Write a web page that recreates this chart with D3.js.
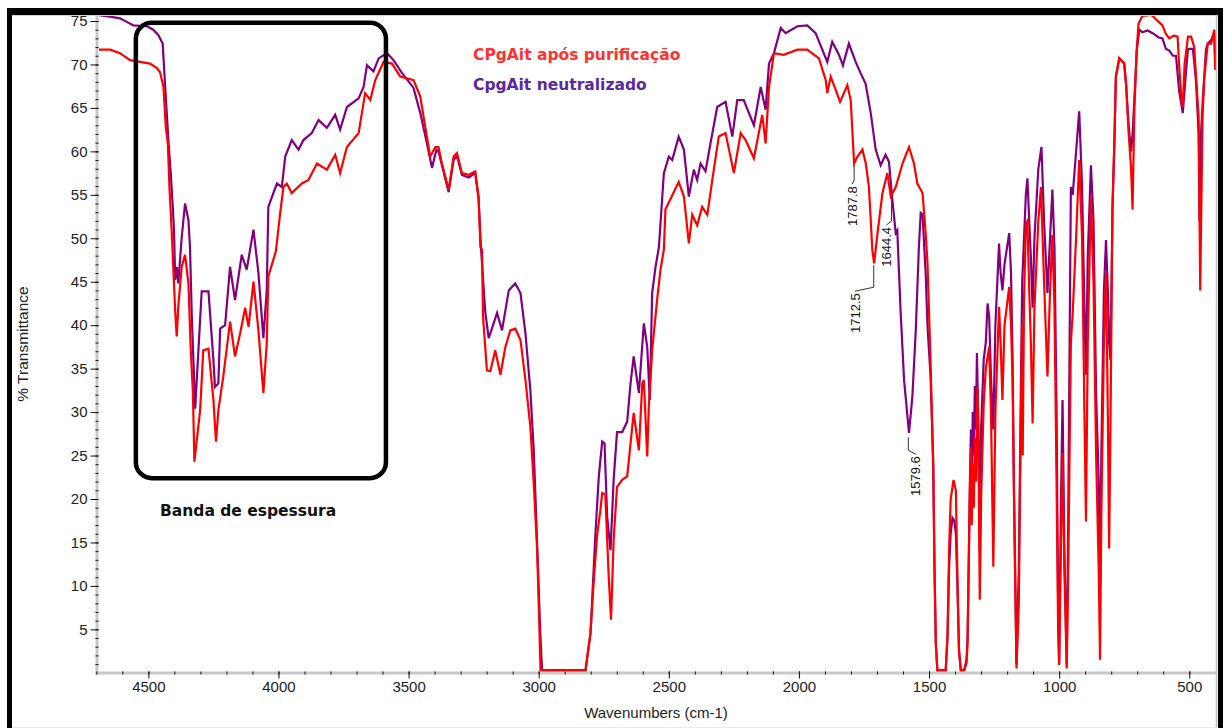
<!DOCTYPE html>
<html>
<head>
<meta charset="utf-8">
<script src="https://cdn.jsdelivr.net/npm/d3@7/dist/d3.min.js"></script>
<style>
  body { margin: 0; background: #fff; }
  svg { display: block; }
  .tick text { font-family: "Liberation Sans", Arial, sans-serif; font-size: 15px; fill: #222; }
</style>
</head>
<body>
<svg id="chart" width="1227" height="728"></svg>
<script>
`use strict`;

// [wavenumber cm-1, %T]
const purificacao = [
  [4700,71.7],[4647,71.7],[4609,71.3],[4570,70.5],[4532,70.3],[4494,70.1],[4468,69.6],[4455,69.1],
  [4442,67.4],[4433,62.8],[4425,60.9],[4419,55.9],[4410,50.6],[4406,47.9],[4397,41.7],[4391,38.7],
  [4385,42.1],[4372,46.7],[4359,48.1],[4346,44.8],[4337,37.1],[4329,32.5],[4323,24.3],[4301,30.2],
  [4289,37.1],[4269,37.3],[4250,31.4],[4240,26.6],[4231,30.2],[4212,34.1],[4186,40.4],[4167,36.4],
  [4147,39.1],[4128,42],[4115,39.8],[4096,45],[4077,39.4],[4058,32.2],[4045,37.9],[4039,45.6],
  [4010,48.5],[3995,52.5],[3981,55.9],[3968,56.3],[3949,55.2],[3910,56.3],[3885,56.7],[3852,58.6],
  [3814,57.9],[3782,59.6],[3763,57.5],[3737,60.5],[3692,62.1],[3667,66.7],[3647,65.9],[3628,68.2],
  [3596,70.3],[3564,70.1],[3532,68.6],[3481,68.2],[3455,66.3],[3436,62.8],[3417,59.4],[3397,60.5],
  [3385,60.5],[3372,58.6],[3346,55.6],[3327,59.4],[3314,59.8],[3295,57.5],[3269,57.3],[3244,57.7],
  [3231,54.8],[3224,49],[3218,48.7],[3214,41],[3199,34.8],[3186,34.7],[3167,37.1],[3147,34.3],
  [3128,37.5],[3109,39.4],[3090,39.6],[3070,38.3],[3051,33.7],[3032,28.3],[3019,21.8],[3006,14.1],
  [3000,8],[2993,0.3],[2900,0.3],[2820,0.3],[2801,4.6],[2789,10.3],[2775,16],[2763,18.7],
  [2756,20.7],[2744,20.5],[2731,11.1],[2722,6.1],[2712,15.3],[2699,21.4],[2679,22.2],[2660,22.6],
  [2647,26.4],[2635,29.9],[2615,25.6],[2602,33.3],[2596,33.7],[2583,24.9],[2577,30.6],[2564,37.1],
  [2545,42.9],[2532,46.4],[2519,48.7],[2513,53.3],[2494,54.5],[2462,56.5],[2442,54.8],[2423,49.4],
  [2410,52.7],[2391,51.5],[2372,53.6],[2352,52.7],[2333,56.7],[2308,61.7],[2282,62.1],[2250,57.5],
  [2224,62.1],[2205,61.3],[2173,59.2],[2141,64.2],[2128,60.9],[2115,67.4],[2096,71.3],[2058,71.1],
  [2006,71.7],[1968,71.7],[1923,70.7],[1897,68.2],[1891,66.7],[1878,68.6],[1859,67.1],[1842,65.7],
  [1814,67.6],[1801,65.9],[1788,58.6],[1775,59.4],[1756,60.2],[1743,58.6],[1731,55.9],[1718,48.7],
  [1711,47.1],[1698,50.6],[1679,55.2],[1660,57.5],[1647,54.8],[1628,55.9],[1602,58.6],[1577,60.5],
  [1558,58.6],[1545,56.3],[1525,55.2],[1513,50.6],[1506,47.1],[1494,35.6],[1484,24],[1479,12],
  [1474,3.4],[1468,0.3],[1436,0.3],[1429,4.2],[1423,14.1],[1417,19.9],[1406,22.2],[1397,21],
  [1391,11.1],[1385,2.6],[1378,0.3],[1365,0.3],[1356,1.1],[1352,3.4],[1348,11],[1343,21],
  [1339,26],[1336,17],[1332,24],[1328,19],[1324,27],[1320,22],[1314,32.9],[1309,22],
  [1305,8.4],[1300,20],[1290,31],[1282,35],[1269,37.5],[1262,30],[1253,12.2],[1245,30],
  [1231,42.1],[1225,38],[1218,31.4],[1210,40],[1192,44.4],[1185,40],[1179,33.7],[1174,21],
  [1164,0.5],[1155,8],[1147,30],[1142,40],[1140,25],[1135,43],[1128,51.7],[1122,52],
  [1115,44],[1109,38.3],[1102,28.7],[1095,42],[1080,52],[1070,55.9],[1058,45],[1045,34.1],
  [1035,44],[1026,50.4],[1018,42],[1010,22],[1004,5],[1000,0.9],[993,15],[987,25.3],
  [980,12],[971,0.5],[965,12],[962,20],[955,38],[948,41.4],[935,50],[923,59],
  [912,50],[903,30],[897,17.4],[890,38],[878,54.8],[868,45],[858,25],[848,12],
  [843,1.5],[838,18],[828,38],[820,46],[813,30],[808,14.3],[803,28],[795,53.6],
  [788,60.9],[782,68.6],[769,70.7],[750,70.1],[743,67.8],[733,62.1],[724,58.2],[718,53.3],
  [711,64.8],[702,71.7],[695,74.7],[680,75.6],[645,75.7],[628,75.2],[603,74.5],[590,73.5],
  [577,73],[560,73.3],[545,73.2],[539,70],[530,66],[525,65.1],[518,70],[505,73.2],
  [493,73.2],[481,72],[474,68.6],[464,64],[458,44],[449,64],[442,68.6],[429,72.4],
  [416,72.4],[404,74],[400,69.4]
];

const neutralizado = [
  [4700,75.7],[4647,75.5],[4609,75.3],[4583,74.9],[4558,74.5],[4506,74.4],[4481,74],[4462,73.4],
  [4445,72.4],[4436,67.8],[4423,61.3],[4414,57.5],[4406,53.6],[4401,50.6],[4397,45.2],[4391,46.7],
  [4385,44.8],[4372,50],[4359,54],[4346,52.1],[4340,49],[4333,41],[4320,30.4],[4295,43.9],
  [4269,43.9],[4250,36],[4244,32.9],[4231,33.3],[4224,39.6],[4205,40],[4186,46.7],[4167,42.9],
  [4141,48.1],[4122,46.4],[4096,51],[4077,46],[4058,38.5],[4045,44],[4039,53.6],[4006,56.3],
  [3987,55.9],[3974,59.4],[3949,61.3],[3923,60.2],[3904,61.3],[3872,62.1],[3846,63.6],[3814,62.7],
  [3782,64.2],[3763,62.5],[3737,65.1],[3692,66.1],[3673,67.4],[3660,69.9],[3635,69.2],[3615,70.7],
  [3583,71.3],[3558,70.5],[3525,69],[3481,67.3],[3455,64.4],[3430,61],[3410,58.1],[3393,60.2],
  [3385,60],[3346,55.3],[3327,59],[3314,59.5],[3295,57.3],[3269,57],[3244,57.5],[3231,54.5],
  [3222,49],[3218,47.2],[3205,41.4],[3192,38.5],[3160,41.4],[3141,39.4],[3115,44],[3090,44.8],
  [3070,43.7],[3051,39.1],[3032,32.5],[3019,25.6],[3006,14.9],[2994,4.6],[2987,0.3],[2820,0.3],
  [2801,4.5],[2782,16],[2769,22.6],[2756,26.6],[2747,26.4],[2737,18],[2724,14.1],[2712,22.2],
  [2699,27.7],[2679,27.7],[2660,28.9],[2647,33.3],[2635,36.4],[2615,32.2],[2596,40.2],[2583,37.5],
  [2573,31.4],[2564,43.7],[2551,46.7],[2538,49],[2519,57.5],[2500,59.4],[2487,59],[2462,61.7],
  [2442,60.2],[2423,54.8],[2404,57.9],[2391,56.7],[2378,58.6],[2359,57.7],[2340,60.9],[2314,65.1],
  [2282,65.7],[2256,61.7],[2237,65.9],[2212,65.9],[2192,64.4],[2173,63],[2147,67.4],[2128,64.8],
  [2115,70.1],[2096,71.3],[2070,74.2],[2051,73.6],[2006,74.4],[1968,74.5],[1936,73.6],[1891,70.3],
  [1872,72.6],[1846,71.1],[1831,69.9],[1808,72.4],[1782,70.3],[1763,69],[1744,67.8],[1724,64.4],
  [1705,60.2],[1686,58.4],[1667,59.6],[1654,58.8],[1641,54.4],[1628,50.6],[1622,50.9],[1609,41.4],
  [1596,33.7],[1577,27.6],[1564,31.8],[1551,39.4],[1539,49],[1532,52.9],[1525,52.7],[1513,46],
  [1506,40],[1494,34],[1484,24],[1479,12],[1474,3.4],[1468,0.3],[1436,0.3],[1429,4.2],
  [1423,12],[1417,16],[1410,17.8],[1403,17.5],[1397,16],[1391,10],[1385,2.6],[1378,0.3],
  [1365,0.3],[1356,1.5],[1352,4],[1348,12],[1343,22],[1339,28],[1336,20],[1332,30],
  [1328,25],[1324,33],[1320,28],[1316,36.8],[1310,28],[1305,14],[1300,28],[1290,36],
  [1282,38],[1275,42.5],[1269,41],[1262,34],[1253,28],[1245,40],[1231,49.4],[1225,46],
  [1218,44],[1210,47],[1192,50.6],[1185,46],[1179,36],[1174,22],[1164,1],[1155,12],
  [1147,33],[1142,45],[1135,50],[1128,55],[1122,56.9],[1115,52],[1109,48],[1102,42],
  [1095,50],[1080,58],[1068,60.5],[1058,52],[1045,43.7],[1035,50],[1026,55.6],[1018,49],
  [1010,30],[1004,8],[1000,1],[993,20],[987,31.4],[980,14],[971,1],[965,18],
  [962,30],[955,55.9],[948,55],[940,58],[923,64.6],[912,56],[903,42],[897,34.3],
  [890,48],[878,58.4],[868,52],[858,32],[848,22],[843,10],[838,25],[828,44],
  [820,49.8],[813,44],[808,38],[803,36],[795,53.6],[788,60.9],[782,68.6],[769,70.7],
  [750,70.1],[743,67.8],[733,63],[724,60],[718,62],[711,66],[702,71.5],[692,74],
  [680,73.7],[660,73.9],[641,73.6],[617,73.1],[603,73],[590,71.8],[577,71.6],[563,71],
  [551,71],[539,67],[525,64.4],[513,69],[505,71.8],[486,71.8],[474,68],[464,62],
  [461,52],[455,62],[448,66],[436,71.7],[429,72.4],[416,72.8],[404,73.6],[400,69.4]
];

const xTicks = [4500, 4000, 3500, 3000, 2500, 2000, 1500, 1000, 500];
const yTicks = [5, 10, 15, 20, 25, 30, 35, 40, 45, 50, 55, 60, 65, 70, 75];
const xMinor = d3.range(500, 4701, 100);
const yMinor = d3.range(1, 76, 1);

const legenda = [`CPgAit após purificação`, `CpgAit neutralizado`];
const cores = [`#ff0000`, `#800080`];
const coresLegenda = [`#ff3232`, `#5a28a0`];

// peak labels: [wavenumber, %T at leader start]
const picos = [[1787.8, 58.4], [1712.5, 46.9], [1644.4, 54.4], [1579.6, 27.1]];

// thickness band box corners [wavenumber, %T]
const bandaWn = [4548, 3587];
const bandaT = [74.8, 22.4];

(function () {

  const svg = d3.select(`#chart`);

  const x = d3.scaleLinear().domain([4700, 400]).range([96.3, 1215.3]);
  const y = d3.scaleLinear().domain([0, 75]).range([672.8, 21]);

  svg.append(`rect`).attr(`width`, 1227).attr(`height`, 728).attr(`fill`, `#fff`);

  // axis bands
  svg.append(`rect`)
    .attr(`x`, 95.5).attr(`y`, 15).attr(`width`, 3).attr(`height`, 660)
    .attr(`fill`, `#c8c8c8`);

  svg.append(`rect`)
    .attr(`x`, 95.5).attr(`y`, 671.5).attr(`width`, 1121.5).attr(`height`, 3)
    .attr(`fill`, `#c8c8c8`);

  let yAx = svg.append(`g`)
    .attr(`transform`, `translate(98.5,0)`)
    .call(d3.axisLeft(y).tickValues(yTicks).tickSize(8).tickPadding(3).tickFormat(d3.format(`d`)));

  let yMin = svg.append(`g`)
    .attr(`transform`, `translate(98.5,0)`)
    .call(d3.axisLeft(y).tickValues(yMinor).tickSize(3).tickFormat(``));

  let xAx = svg.append(`g`)
    .attr(`transform`, `translate(0,671.5)`)
    .call(d3.axisBottom(x).tickValues(xTicks).tickSize(7).tickPadding(3).tickFormat(d3.format(`d`)));

  let xMin = svg.append(`g`)
    .attr(`transform`, `translate(0,671.5)`)
    .call(d3.axisBottom(x).tickValues(xMinor).tickSize(3).tickFormat(``));

  [yAx, yMin, xAx, xMin].forEach(g => {
    g.select(`.domain`).remove();
    g.selectAll(`line`).attr(`stroke`, `#111`);
  });

  // axis titles
  svg.append(`text`)
    .attr(`transform`, `translate(28,344) rotate(-90)`)
    .attr(`text-anchor`, `middle`)
    .style(`font-family`, `"Liberation Sans", Arial, sans-serif`)
    .style(`font-size`, `15.5px`)
    .style(`fill`, `#222`)
    .text(`% Transmittance`);

  svg.append(`text`)
    .attr(`x`, 656).attr(`y`, 718)
    .attr(`text-anchor`, `middle`)
    .style(`font-family`, `"Liberation Sans", Arial, sans-serif`)
    .style(`font-size`, `15px`)
    .style(`fill`, `#222`)
    .text(`Wavenumbers (cm-1)`);

  // spectra
  svg.append(`clipPath`).attr(`id`, `plotClip`)
    .append(`rect`).attr(`x`, 99).attr(`y`, 15.5).attr(`width`, 1117).attr(`height`, 657);

  let line = d3.line().x(d => x(d[0])).y(d => y(d[1]));

  let spectra = svg.append(`g`).attr(`clip-path`, `url(#plotClip)`);

  [neutralizado, purificacao].forEach((s, i) => {
    spectra.append(`path`)
      .datum(s)
      .attr(`d`, line)
      .attr(`fill`, `none`)
      .attr(`stroke`, i === 0 ? cores[1] : cores[0])
      .attr(`stroke-width`, 2.2)
      .attr(`stroke-linejoin`, `miter`);
  });

  // peak labels
  const leaderLen = [15, 22, 21, 13];
  const labelDx = [-2, -18.7, -5, 7.5];

  picos.forEach((p, i) => {

    let px = x(p[0]), py = y(p[1]), L = leaderLen[i], dx = labelDx[i];

    svg.append(`path`)
      .attr(`d`, `M${px},${py}V${py + L}L${px + dx},${py + L + 4}`)
      .attr(`fill`, `none`)
      .attr(`stroke`, `#333`)
      .attr(`stroke-width`, 1);

    svg.append(`text`)
      .attr(`transform`, `translate(${px + dx},${py + L + 6}) rotate(-90)`)
      .attr(`text-anchor`, `end`)
      .attr(`dominant-baseline`, `central`)
      .style(`font-family`, `"Liberation Sans", Arial, sans-serif`)
      .style(`font-size`, `13px`)
      .style(`fill`, `#111`)
      .text(d3.format(`.1f`)(p[0]));
  });

  // legend
  legenda.forEach((t, i) => {
    svg.append(`text`)
      .attr(`x`, 473).attr(`y`, 60 + i * 29.5)
      .style(`font-family`, `"DejaVu Sans", Verdana, sans-serif`)
      .style(`font-weight`, `bold`)
      .style(`font-size`, `15.5px`)
      .style(`fill`, coresLegenda[i])
      .text(t);
  });

  // thickness band box
  svg.append(`rect`)
    .attr(`x`, x(bandaWn[0])).attr(`y`, y(bandaT[0]))
    .attr(`width`, x(bandaWn[1]) - x(bandaWn[0]))
    .attr(`height`, y(bandaT[1]) - y(bandaT[0]))
    .attr(`rx`, 16).attr(`ry`, 16)
    .attr(`fill`, `none`)
    .attr(`stroke`, `#000`)
    .attr(`stroke-width`, 4.5);

  svg.append(`text`)
    .attr(`x`, 160).attr(`y`, 516)
    .style(`font-family`, `"DejaVu Sans", Verdana, sans-serif`)
    .style(`font-weight`, `bold`)
    .style(`font-size`, `15.5px`)
    .style(`fill`, `#111`)
    .text(`Banda de espessura`);

  // window frame
  svg.append(`line`).attr(`x1`, 12).attr(`x2`, 1218).attr(`y1`, 15.5).attr(`y2`, 15.5)
    .attr(`stroke`, `#d4d4d4`).attr(`stroke-width`, 1);
  svg.append(`line`).attr(`x1`, 1216.5).attr(`x2`, 1216.5).attr(`y1`, 15).attr(`y2`, 728)
    .attr(`stroke`, `#c0c0c0`).attr(`stroke-width`, 1.5);
  svg.append(`line`).attr(`x1`, 12).attr(`x2`, 1218).attr(`y1`, 727.5).attr(`y2`, 727.5)
    .attr(`stroke`, `#ecece6`).attr(`stroke-width`, 1);

  svg.append(`rect`).attr(`x`, 7).attr(`y`, 8).attr(`width`, 1216).attr(`height`, 7).attr(`fill`, `#000`);
  svg.append(`rect`).attr(`x`, 7).attr(`y`, 8).attr(`width`, 5).attr(`height`, 720).attr(`fill`, `#000`);
  svg.append(`rect`).attr(`x`, 1218).attr(`y`, 8).attr(`width`, 5).attr(`height`, 720).attr(`fill`, `#000`);

})();
</script>
</body>
</html>
